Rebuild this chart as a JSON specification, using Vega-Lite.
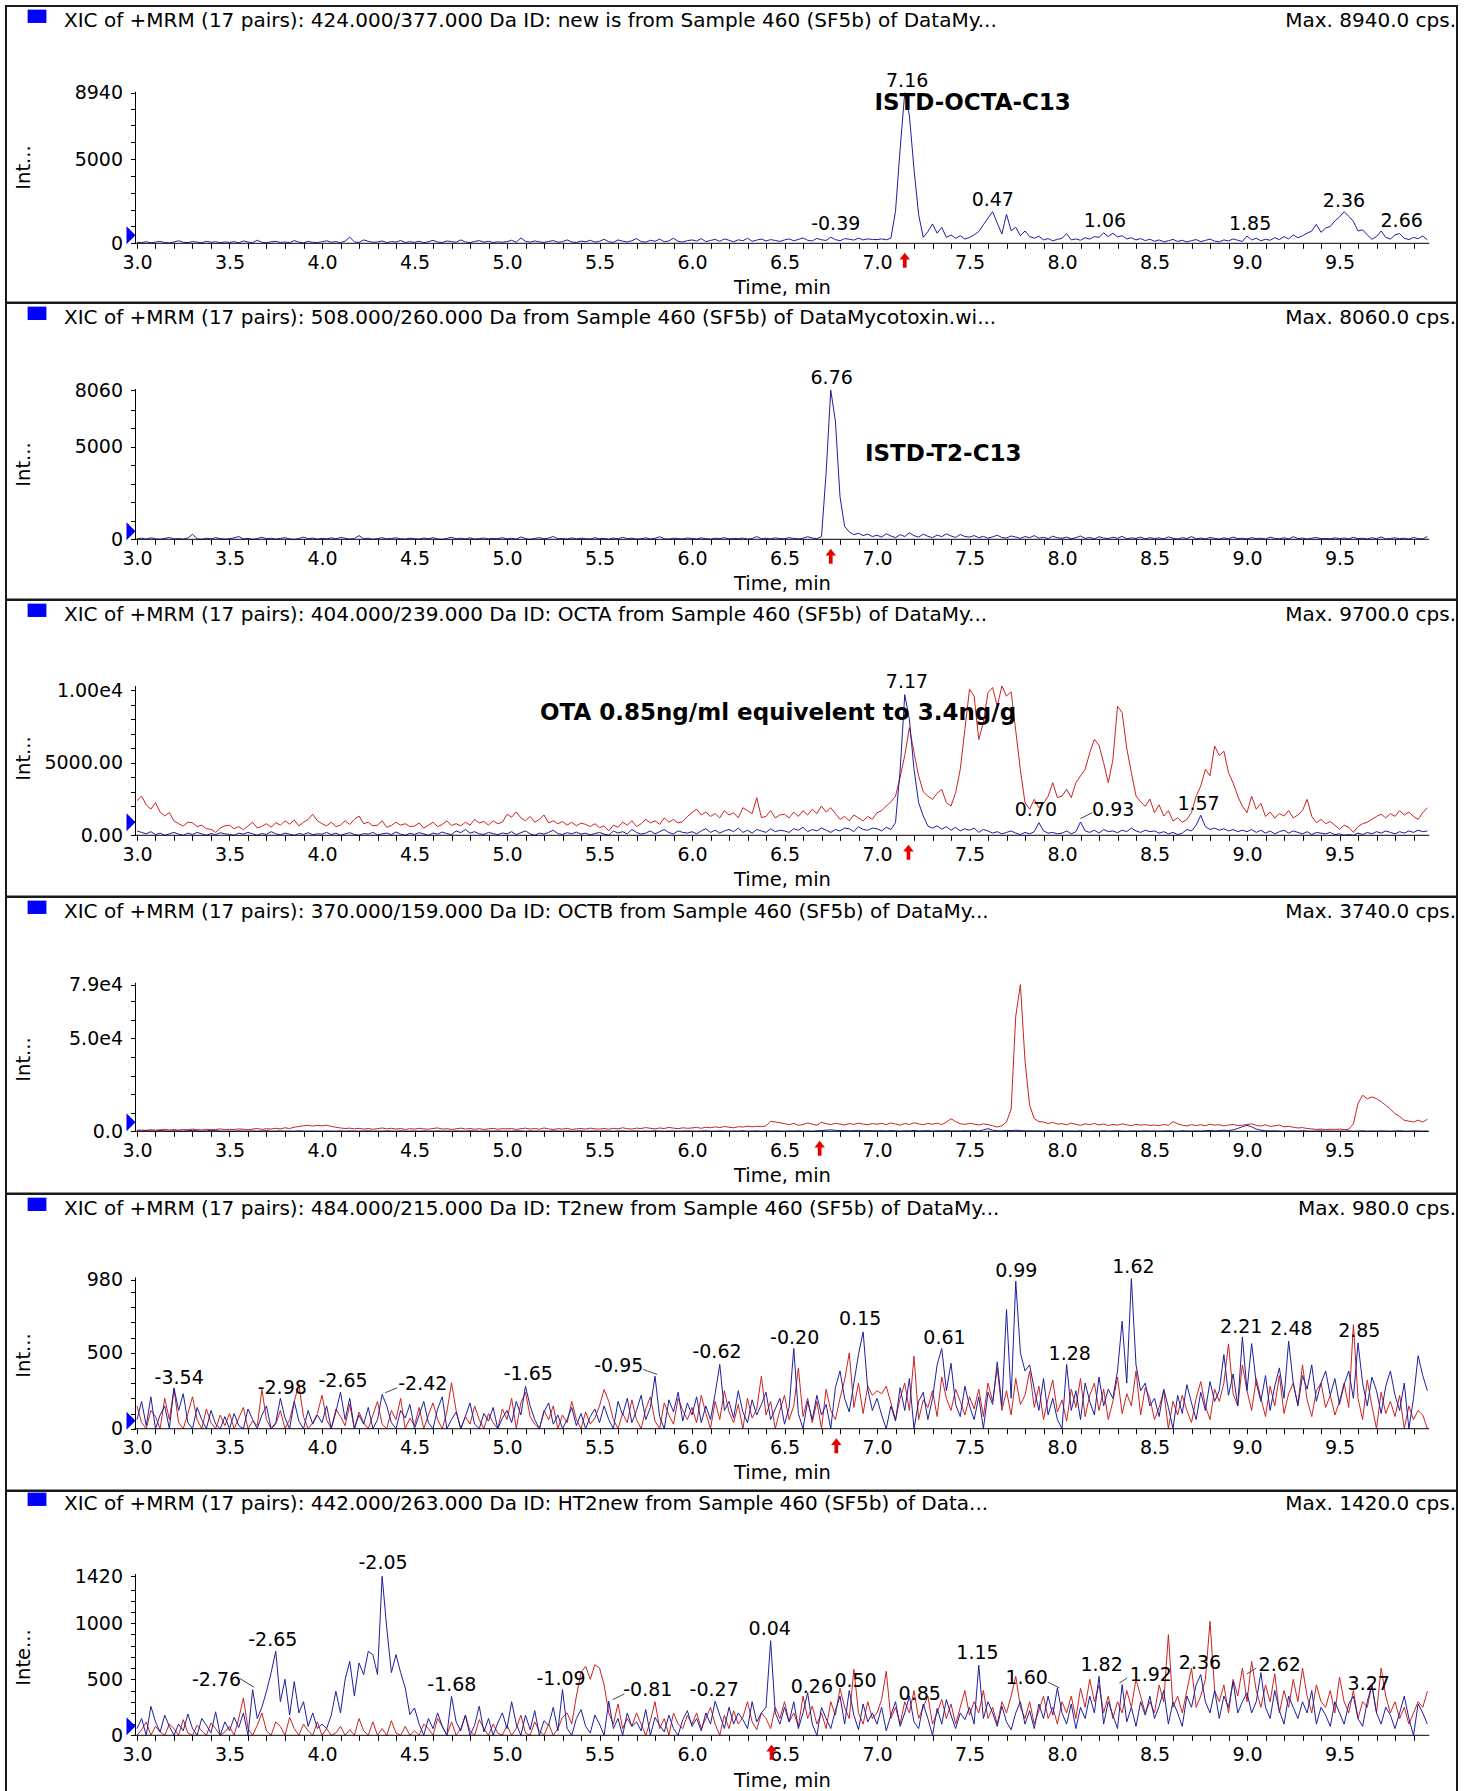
{
"$schema":"https://vega.github.io/schema/vega-lite/v6.json",
"padding":{"left":5,"top":5,"right":5,"bottom":0},
"background":"white",
"bounds":"flush",
"spacing":0,
"config":{
 "view":{"stroke":"#1a1a1a","strokeWidth":2},
 "axis":{"labelFont":"DejaVu Sans","labelFontSize":19,"labelColor":"black","titleFont":"DejaVu Sans","titleFontSize":19.5,"titleFontWeight":"normal","titleColor":"black","tickColor":"black","tickSize":5,"tickWidth":1,"grid":false,"domain":false,"labelFlush":false,"labelOverlap":false,"zindex":1},
 "axisX":{"labelPadding":5,"labelAngle":0},
 "axisY":{"labelPadding":8},
 "text":{"font":"DejaVu Sans","fontSize":19,"color":"black"}
},
"datasets":{
 "traces":[{
  "t":[3,3.025,3.05,3.075,3.1,3.125,3.15,3.175,3.2,3.225,3.25,3.275,3.3,3.325,3.35,3.375,3.4,3.425,3.45,3.475,3.5,3.525,3.55,3.575,3.6,3.625,3.65,3.675,3.7,3.725,3.75,3.775,3.8,3.825,3.85,3.875,3.9,3.925,3.95,3.975,
4,4.025,4.05,4.075,4.1,4.125,4.15,4.175,4.2,4.225,4.25,4.275,4.3,4.325,4.35,4.375,4.4,4.425,4.45,4.475,4.5,4.525,4.55,4.575,4.6,4.625,4.65,4.675,4.7,4.725,4.75,4.775,4.8,4.825,4.85,4.875,4.9,4.925,4.95,4.975,
5,5.025,5.05,5.075,5.1,5.125,5.15,5.175,5.2,5.225,5.25,5.275,5.3,5.325,5.35,5.375,5.4,5.425,5.45,5.475,5.5,5.525,5.55,5.575,5.6,5.625,5.65,5.675,5.7,5.725,5.75,5.775,5.8,5.825,5.85,5.875,5.9,5.925,5.95,5.975,
6,6.025,6.05,6.075,6.1,6.125,6.15,6.175,6.2,6.225,6.25,6.275,6.3,6.325,6.35,6.375,6.4,6.425,6.45,6.475,6.5,6.525,6.55,6.575,6.6,6.625,6.65,6.675,6.7,6.725,6.75,6.775,6.8,6.825,6.85,6.875,6.9,6.925,6.95,6.975,
7,7.025,7.05,7.075,7.1,7.125,7.15,7.175,7.2,7.225,7.25,7.275,7.3,7.325,7.35,7.375,7.4,7.425,7.45,7.475,7.5,7.525,7.55,7.575,7.6,7.625,7.65,7.675,7.7,7.725,7.75,7.775,7.8,7.825,7.85,7.875,7.9,7.925,7.95,7.975,
8,8.025,8.05,8.075,8.1,8.125,8.15,8.175,8.2,8.225,8.25,8.275,8.3,8.325,8.35,8.375,8.4,8.425,8.45,8.475,8.5,8.525,8.55,8.575,8.6,8.625,8.65,8.675,8.7,8.725,8.75,8.775,8.8,8.825,8.85,8.875,8.9,8.925,8.95,8.975,
9,9.025,9.05,9.075,9.1,9.125,9.15,9.175,9.2,9.225,9.25,9.275,9.3,9.325,9.35,9.375,9.4,9.425,9.45,9.475,9.5,9.525,9.55,9.575,9.6,9.625,9.65,9.675,9.7,9.725,9.75,9.775,9.8,9.825,9.85,9.875,9.9,9.925,9.95,9.975],
  "p1b":[60,40,90,30,70,110,50,20,80,150,60,40,100,70,30,120,60,90,40,80,
50,100,30,140,70,40,180,60,30,90,120,50,80,40,160,70,30,110,60,40,
90,150,60,100,40,130,360,90,50,200,120,60,80,140,40,100,70,170,50,90,
60,120,40,90,180,70,50,140,100,60,200,80,40,110,160,70,120,50,90,60,
100,180,60,320,120,70,140,90,50,110,160,60,100,200,80,50,130,90,180,70,
120,240,90,60,200,130,80,150,280,100,70,180,120,250,90,140,300,110,80,160,
200,130,280,100,170,230,120,260,180,90,210,150,300,120,190,250,140,220,170,110,
200,260,150,230,320,180,140,290,210,170,360,220,150,280,240,190,310,200,260,230,
220,260,210,300,1900,5600,8940,7600,4400,1700,350,700,1150,600,950,350,500,300,450,250,
350,500,700,1100,1500,1880,1200,550,1720,750,950,450,730,400,300,420,200,280,150,230,
300,570,200,260,180,330,250,400,350,620,400,600,380,450,260,330,200,280,160,240,
120,200,90,150,230,110,180,80,160,220,100,170,250,130,90,200,140,260,180,110,
435,200,300,150,240,180,330,220,400,260,500,330,450,600,730,1130,650,900,1000,1330,
1560,1880,1600,1300,730,800,500,240,400,730,350,250,500,580,300,220,350,280,435,200],
  "p2b":[20,60,10,80,30,0,50,100,20,40,10,70,270,30,0,60,20,90,40,10,
30,80,150,20,50,0,40,110,30,60,10,50,90,20,0,40,120,30,70,10,
50,20,80,30,100,60,10,40,200,30,60,0,40,90,20,50,80,30,10,60,
40,10,70,30,90,20,0,50,110,30,60,20,80,10,40,70,20,50,30,90,
20,60,10,130,40,0,50,90,20,70,150,30,50,10,80,20,60,40,10,90,
30,50,0,70,20,110,40,60,10,30,80,20,50,140,30,10,60,40,20,70,
50,20,80,30,10,60,40,90,20,50,30,70,10,40,150,30,60,20,80,40,
30,90,50,20,60,140,70,30,150,3600,8060,6400,2300,700,400,250,330,200,280,150,
220,120,300,180,90,250,150,350,200,120,280,160,90,230,140,300,180,100,260,150,
120,200,90,160,60,130,220,100,70,180,120,50,150,90,200,60,110,40,170,80,
60,120,30,90,180,50,100,20,140,70,40,110,60,160,30,80,50,120,20,90,
40,80,20,130,60,10,90,40,150,30,70,20,100,50,10,80,30,120,40,60,
20,90,40,60,10,120,50,30,80,20,140,40,70,10,60,100,30,50,20,80,
40,70,20,110,30,60,10,90,40,130,20,50,80,30,60,10,100,40,20,150],
  "p3r":[2400,2700,2100,1800,2250,1600,1330,1560,990,800,640,900,870,600,700,450,410,200,500,650,
700,450,600,380,650,900,500,620,800,550,870,700,1000,760,1050,650,900,1100,1450,1000,
800,650,900,600,700,1000,750,1100,1330,800,900,650,700,1000,550,680,900,700,800,600,
640,850,500,700,900,600,750,1000,680,800,650,900,700,1100,850,950,700,1000,800,900,
1450,1250,1610,1200,1000,1300,900,1100,1400,850,1000,800,950,700,900,650,850,750,600,800,
530,650,300,700,550,900,700,1000,600,800,1100,850,1000,750,1200,900,1100,850,950,1300,
1560,1800,1400,1600,1300,1500,1200,1700,1400,1560,1200,1900,1700,1500,2600,1220,1300,1700,1200,1400,
1450,1200,1600,1300,1700,1400,1800,1500,2020,1600,1900,1500,1100,1300,1000,1400,1200,1000,1300,1100,
1560,1700,2020,2300,2700,4000,5500,7430,5700,4100,3000,2700,2480,2900,3170,2250,2020,2940,4550,7300,
10070,9600,6600,7800,9840,10190,8900,10300,9600,9900,7200,4500,2250,1800,2480,1900,2200,2700,3630,2600,
2700,3170,2600,3630,4100,4550,5700,6620,6200,5000,3630,5200,8900,8460,6000,4320,2710,2300,2000,2500,
1560,2100,1330,1700,990,1200,900,1100,1560,2700,3400,4550,4100,6160,5500,5800,4320,3600,2700,2000,
1560,2700,1800,2200,1300,1600,1200,1500,1330,1700,1200,1400,1700,2480,1300,870,1100,800,950,700,
414,700,550,200,600,800,900,1100,1300,1450,1200,1500,1300,1700,1400,1600,1300,1100,1560,1900],
  "p3b":[300,200,100,250,50,150,0,100,200,80,0,150,60,200,100,0,120,50,180,100,
60,0,150,80,200,100,0,120,60,250,100,30,150,80,0,120,60,180,40,100,
80,200,50,150,0,100,180,60,0,120,80,200,30,100,150,50,230,80,0,140,
60,180,100,0,150,80,220,120,50,300,180,400,150,250,100,60,200,120,40,160,
100,250,50,180,300,100,0,150,80,200,350,120,60,180,100,220,80,150,30,120,
200,80,0,300,150,250,100,400,200,80,150,300,100,250,400,180,100,300,200,150,
250,100,300,450,200,350,150,300,400,250,500,200,350,150,400,300,200,450,250,350,
300,200,450,350,550,250,400,300,500,350,200,400,300,500,450,250,600,400,350,500,
450,300,550,400,870,4500,9700,8000,4550,2250,1330,640,500,650,420,600,350,550,300,450,
350,500,200,400,300,150,250,100,200,300,150,50,200,100,250,870,300,150,200,100,
150,300,100,250,920,300,200,350,150,400,250,300,180,350,250,500,300,200,350,250,
300,150,250,100,200,50,150,400,300,700,1380,600,400,500,350,450,300,400,250,350,
250,400,200,350,150,300,100,250,350,150,300,200,100,250,50,200,150,100,200,50,
100,0,50,0,150,50,200,100,250,150,300,200,100,250,150,300,200,350,250,300],
  "p4r":[540,700,500,900,600,800,1100,700,900,600,1000,800,1200,900,700,1100,800,1000,1300,900,
1080,900,1300,1100,800,1200,1500,1000,1400,1200,1600,1300,1900,1500,2200,2600,3000,3200,2800,3230,
2900,3300,2600,2200,1800,1500,1700,1300,1600,1200,1500,1100,1400,1800,1300,1600,1200,1500,1000,1400,
1200,1600,1300,1100,1500,1800,1200,1400,1000,1300,1700,1200,1500,1100,1400,1000,1300,1600,1100,1400,
1300,1500,1000,1400,1700,1200,1500,1100,1800,1300,1000,1400,1200,1600,1000,1300,1500,1200,1700,1300,
1200,1500,1100,1600,1300,1900,1400,1200,1700,1500,2000,1600,1300,1800,1500,2100,1700,1400,1900,1600,
1800,2100,1600,2200,1900,2400,2000,2600,2200,1900,2500,2300,2800,2400,2700,2500,2900,5400,5000,4600,
4100,3500,4300,3200,3600,4500,3800,3300,4900,4100,3600,4300,3900,3400,4200,3700,4400,3900,3500,4200,
3800,4300,3600,4500,3900,3300,4200,3700,4600,4000,3500,4300,3800,4400,3600,4900,6800,5200,4100,3700,
4300,3900,3400,4000,3600,3000,2300,3000,5000,12000,62000,79000,38000,14000,6800,5200,5000,4200,4800,3900,
4100,3500,4400,3800,3200,4000,3600,4200,3400,3900,3100,3700,3300,4000,3500,3000,3800,3300,3600,3100,
3400,3000,3700,3200,5200,4000,3300,2900,3600,3100,3500,3000,3800,3300,3600,2900,3400,3700,3100,3300,
3600,4000,3200,2800,3500,2600,3000,3300,2400,2700,2200,1800,2000,1500,1300,1000,1200,900,1100,1000,
1200,900,1100,4000,15000,19400,17500,18500,17600,16000,14000,12000,9500,8000,5900,5500,5000,6000,5000,6500],
  "p4b":[200,0,300,100,0,400,150,0,250,100,0,300,500,200,0,150,600,300,100,0,
100,0,200,50,0,150,0,100,300,0,50,200,0,100,0,250,50,0,150,0,
0,100,50,0,200,0,150,50,0,100,250,0,50,0,150,100,0,200,50,0,
100,0,150,50,0,200,0,100,0,150,50,0,250,100,0,50,150,0,100,0,
50,0,200,100,0,150,50,0,100,0,200,50,0,150,0,100,250,0,50,100,
0,150,50,0,100,200,0,50,150,0,100,0,250,50,0,100,150,0,50,200,
100,0,150,250,50,0,200,100,0,150,50,300,0,100,200,0,150,50,250,100,
0,200,100,300,50,150,0,250,400,600,800,500,300,450,200,350,500,250,400,300,
200,350,150,400,250,100,300,200,450,150,250,350,100,300,200,400,150,250,100,300,
200,400,150,800,1400,600,300,200,500,350,600,400,200,300,150,250,100,300,200,150,
250,100,200,50,300,150,0,200,100,250,50,150,300,100,0,200,150,50,250,100,
200,50,150,300,100,0,250,150,50,200,100,300,500,200,400,600,350,800,1500,2500,
3200,2400,1200,600,300,150,250,100,0,200,150,50,300,100,0,150,250,50,100,0,
150,50,200,0,100,250,0,150,50,200,100,0,150,300,50,0,200,100,0,150],
  "p5b":[60,180,20,210,0,90,150,0,269,120,230,40,0,140,60,0,120,30,0,80,
0,100,20,0,130,60,0,90,150,0,40,200,70,0,180,50,0,120,30,90,
40,150,0,110,241,60,200,0,90,30,140,0,60,226,150,40,0,120,70,160,
0,90,180,40,0,130,210,0,60,110,0,80,170,30,0,100,50,140,0,70,
120,40,180,90,280,150,60,0,110,170,30,90,0,60,140,20,100,0,80,130,
40,150,60,0,180,90,200,40,120,220,60,140,346,80,0,190,110,240,50,170,
90,210,40,150,60,230,423,120,180,70,250,110,40,190,90,160,240,60,130,200,
30,140,528,100,0,180,60,220,90,160,0,270,380,200,110,300,490,637,260,120,
200,90,0,150,50,270,120,330,0,180,240,60,200,420,528,250,430,160,80,280,
150,60,210,0,240,160,440,150,784,200,970,500,380,420,260,120,330,90,200,60,
0,423,120,250,60,300,180,90,340,150,260,200,380,707,300,988,420,250,300,150,
200,80,260,140,0,220,100,290,170,60,240,120,310,180,250,488,220,360,150,604,
250,560,300,180,350,120,280,400,200,576,300,150,350,260,420,180,300,380,220,330,
160,290,380,200,565,300,150,340,250,100,280,380,220,120,300,0,200,480,350,250],
  "p5r":[150,40,0,120,80,0,200,60,260,40,0,100,210,60,0,130,40,0,90,20,
100,0,70,140,0,50,20,258,60,0,30,120,0,60,180,291,80,0,40,100,
221,60,0,130,80,20,160,0,110,40,0,90,180,30,0,120,60,200,0,70,
20,140,0,90,170,60,0,110,302,120,0,80,30,150,60,0,100,40,0,130,
60,200,0,170,240,80,30,0,120,60,150,0,90,40,180,60,0,110,30,70,
150,258,180,60,0,100,40,190,60,0,130,210,50,0,170,90,30,200,120,60,
140,40,220,100,0,180,60,250,110,40,160,0,200,70,130,346,90,180,0,120,
220,60,150,400,80,200,40,180,0,260,120,60,200,320,499,140,300,100,280,220,
250,230,280,170,60,200,300,120,477,60,190,140,250,80,340,200,120,260,180,90,
210,130,260,80,300,180,400,120,250,90,330,160,220,380,140,280,60,200,320,110,
190,50,260,140,330,80,220,300,120,260,60,180,340,100,230,150,380,90,270,200,
60,140,250,0,180,90,220,120,40,200,310,150,60,260,180,300,558,230,150,420,
250,120,330,200,80,280,150,350,100,230,300,160,420,190,80,250,300,140,220,90,
180,300,140,685,200,60,320,150,0,240,100,180,80,220,0,150,60,120,90,0],
  "p6b":[60,150,0,259,120,30,180,80,0,100,40,190,60,0,150,90,20,210,0,120,
40,160,70,200,0,408,150,250,393,560,750,300,500,180,480,200,300,80,200,60,
100,60,180,393,200,500,660,350,646,542,750,720,542,1420,958,560,720,560,423,185,
244,100,0,150,60,200,80,0,348,120,40,180,0,90,260,30,150,0,110,200,
60,300,100,0,180,50,220,0,130,90,250,40,408,60,0,150,230,80,20,180,
100,0,304,60,150,0,200,80,120,40,230,0,160,90,30,180,60,0,140,220,
80,150,40,200,100,304,180,60,250,100,200,140,60,300,120,200,250,845,200,100,
250,120,300,60,200,380,100,0,250,150,60,220,350,100,400,180,50,280,120,200,
100,250,40,180,300,80,200,350,120,60,280,150,0,240,100,320,180,60,200,140,
250,100,625,150,300,200,80,260,120,50,200,300,100,220,60,280,150,350,180,423,
200,100,280,60,250,150,350,200,527,100,300,180,60,452,120,250,80,300,180,350,
150,260,400,100,300,200,80,350,250,450,542,300,200,400,150,350,250,480,200,300,
380,200,300,560,250,150,400,220,100,350,250,150,300,200,400,100,250,180,80,300,
200,100,280,350,150,80,300,450,200,100,250,180,60,200,350,150,0,280,200,100],
  "p6r":[0,50,120,0,80,30,0,100,60,0,140,20,0,90,40,0,110,60,0,30,
80,0,150,333,60,0,90,200,40,0,120,80,0,160,60,0,100,40,0,120,
0,60,0,20,80,0,50,0,150,40,0,120,0,60,0,130,20,0,80,0,
40,0,100,60,0,150,80,0,120,0,60,180,40,0,140,60,0,100,20,0,
90,0,60,180,20,0,120,40,0,100,0,60,160,200,100,350,560,616,500,631,
601,450,200,100,280,60,150,80,200,100,0,130,300,60,150,0,200,100,60,180,
100,200,60,150,250,100,0,180,60,220,100,160,300,120,50,200,150,60,250,150,
300,120,200,80,350,150,260,100,200,60,300,180,420,250,150,590,200,100,300,150,
200,320,571,150,250,100,300,200,400,150,250,350,100,200,320,150,280,100,250,400,
180,300,200,400,150,250,100,300,200,350,527,250,150,300,100,220,350,150,250,100,
300,200,350,150,420,250,500,300,450,200,350,150,300,200,400,250,500,350,200,300,
200,450,300,899,250,350,200,400,600,250,350,500,1018,400,300,450,200,500,350,600,
300,660,400,250,450,300,550,200,400,250,500,300,600,350,200,450,300,250,400,200,
520,300,200,400,150,300,250,450,200,601,350,200,300,150,250,100,200,300,250,393]
 }],
 "headers":[
  {"p":1,"left":"XIC of +MRM (17 pairs): 424.000/377.000 Da ID: new is from Sample 460 (SF5b) of DataMy...","right":"Max. 8940.0 cps.","rt":7.15},
  {"p":2,"left":"XIC of +MRM (17 pairs): 508.000/260.000 Da  from Sample 460 (SF5b) of DataMycotoxin.wi...","right":"Max. 8060.0 cps.","rt":6.75},
  {"p":3,"left":"XIC of +MRM (17 pairs): 404.000/239.000 Da ID: OCTA from Sample 460 (SF5b) of DataMy...","right":"Max. 9700.0 cps.","rt":7.17},
  {"p":4,"left":"XIC of +MRM (17 pairs): 370.000/159.000 Da ID: OCTB from Sample 460 (SF5b) of DataMy...","right":"Max. 3740.0 cps.","rt":6.69},
  {"p":5,"left":"XIC of +MRM (17 pairs): 484.000/215.000 Da ID: T2new from Sample 460 (SF5b) of DataMy...","right":"Max. 980.0 cps.","rt":6.78},
  {"p":6,"left":"XIC of +MRM (17 pairs): 442.000/263.000 Da ID: HT2new from Sample 460 (SF5b) of Data...","right":"Max. 1420.0 cps.","rt":6.43}
 ],
 "labels":[
  {"p":1,"t":7.163,"v":9638,"txt":"7.16","k":"peak"},
  {"p":1,"t":7.517,"v":8351,"txt":"ISTD-OCTA-C13","k":"note"},
  {"p":1,"t":6.777,"v":1168,"txt":"-0.39","k":"peak"},
  {"p":1,"t":7.626,"v":2553,"txt":"0.47","k":"peak"},
  {"p":1,"t":8.232,"v":1326,"txt":"1.06","k":"peak"},
  {"p":1,"t":9.017,"v":1168,"txt":"1.85","k":"peak"},
  {"p":1,"t":9.524,"v":2513,"txt":"2.36","k":"peak"},
  {"p":1,"t":9.836,"v":1326,"txt":"2.66","k":"peak"},
  {"p":2,"t":6.755,"v":8712,"txt":"6.76","k":"peak"},
  {"p":2,"t":7.358,"v":4626,"txt":"ISTD-T2-C13","k":"note"},
  {"p":3,"t":7.162,"v":10580,"txt":"7.17","k":"peak"},
  {"p":3,"t":6.465,"v":8418,"txt":"OTA  0.85ng/ml  equivelent to 3.4ng/g","k":"note"},
  {"p":3,"t":7.859,"v":1748,"txt":"0.70","k":"peak"},
  {"p":3,"t":8.277,"v":1748,"txt":"0.93","k":"peak"},
  {"p":3,"t":8.738,"v":2139,"txt":"1.57","k":"peak"},
  {"p":5,"t":3.228,"v":331,"txt":"-3.54","k":"peak"},
  {"p":5,"t":3.785,"v":265,"txt":"-2.98","k":"peak"},
  {"p":5,"t":4.114,"v":313,"txt":"-2.65","k":"peak"},
  {"p":5,"t":4.545,"v":296,"txt":"-2.42","k":"peak"},
  {"p":5,"t":5.115,"v":361,"txt":"-1.65","k":"peak"},
  {"p":5,"t":5.604,"v":412,"txt":"-0.95","k":"peak"},
  {"p":5,"t":6.135,"v":505,"txt":"-0.62","k":"peak"},
  {"p":5,"t":6.555,"v":598,"txt":"-0.20","k":"peak"},
  {"p":5,"t":6.909,"v":723,"txt":"0.15","k":"peak"},
  {"p":5,"t":7.365,"v":598,"txt":"0.61","k":"peak"},
  {"p":5,"t":7.753,"v":1040,"txt":"0.99","k":"peak"},
  {"p":5,"t":8.042,"v":493,"txt":"1.28","k":"peak"},
  {"p":5,"t":8.386,"v":1062,"txt":"1.62","k":"peak"},
  {"p":5,"t":8.969,"v":668,"txt":"2.21","k":"peak"},
  {"p":5,"t":9.24,"v":659,"txt":"2.48","k":"peak"},
  {"p":5,"t":9.607,"v":646,"txt":"2.85","k":"peak"},
  {"p":6,"t":3.43,"v":497,"txt":"-2.76","k":"peak"},
  {"p":6,"t":3.734,"v":854,"txt":"-2.65","k":"peak"},
  {"p":6,"t":4.33,"v":1539,"txt":"-2.05","k":"peak"},
  {"p":6,"t":4.702,"v":452,"txt":"-1.68","k":"peak"},
  {"p":6,"t":5.292,"v":506,"txt":"-1.09","k":"peak"},
  {"p":6,"t":5.761,"v":408,"txt":"-0.81","k":"peak"},
  {"p":6,"t":6.12,"v":408,"txt":"-0.27","k":"peak"},
  {"p":6,"t":6.42,"v":952,"txt":"0.04","k":"peak"},
  {"p":6,"t":6.648,"v":428,"txt":"0.26","k":"peak"},
  {"p":6,"t":6.884,"v":488,"txt":"0.50","k":"peak"},
  {"p":6,"t":7.231,"v":369,"txt":"0.85","k":"peak"},
  {"p":6,"t":7.543,"v":735,"txt":"1.15","k":"peak"},
  {"p":6,"t":7.809,"v":512,"txt":"1.60","k":"peak"},
  {"p":6,"t":8.214,"v":631,"txt":"1.82","k":"peak"},
  {"p":6,"t":8.48,"v":542,"txt":"1.92","k":"peak"},
  {"p":6,"t":8.746,"v":646,"txt":"2.36","k":"peak"},
  {"p":6,"t":9.177,"v":631,"txt":"2.62","k":"peak"},
  {"p":6,"t":9.658,"v":458,"txt":"3.27","k":"peak"}
 ],
 "leaders":[
  {"p":3,"t":8.1,"v":1150,"t2":8.163,"v2":1564},
  {"p":5,"t":4.342,"v":237,"t2":4.406,"v2":269},
  {"p":5,"t":5.736,"v":390,"t2":5.812,"v2":357},
  {"p":6,"t":3.557,"v":506,"t2":3.633,"v2":429},
  {"p":6,"t":5.571,"v":318,"t2":5.634,"v2":369},
  {"p":6,"t":7.923,"v":476,"t2":7.986,"v2":423},
  {"p":6,"t":8.31,"v":467,"t2":8.353,"v2":512},
  {"p":6,"t":9.0,"v":548,"t2":9.05,"v2":601}
 ]
},
"vconcat":[
 {"width":1451,"height":296.6,"resolve":{"axis":{"x":"independent","y":"independent"}},"layer":[
  {"data":{"name":"traces"},"transform":[{"flatten":["t","p1b"]}],"mark":{"type":"line","color":"#1e1e9e","strokeWidth":1},
   "encoding":{"x":{"field":"t","type":"quantitative","scale":{"domain":[2.2919,10.1351],"nice":false,"zero":false},"axis":{"title":"Time, min","values":[3,3.1,3.2,3.3,3.4,3.5,3.6,3.7,3.8,3.9,4,4.1,4.2,4.3,4.4,4.5,4.6,4.7,4.8,4.9,5,5.1,5.2,5.3,5.4,5.5,5.6,5.7,5.8,5.9,6,6.1,6.2,6.3,6.4,6.5,6.6,6.7,6.8,6.9,7,7.1,7.2,7.3,7.4,7.5,7.6,7.7,7.8,7.9,8,8.1,8.2,8.3,8.4,8.5,8.6,8.7,8.8,8.9,9,9.1,9.2,9.3,9.4,9.5,9.6,9.7,9.8,9.9],"labelExpr":"round(datum.value*10)%5==0 ? format(datum.value,'.1f') : ''","labelOverlap":false,"offset":-59.3,"titleX":776,"titleY":44,"titleBaseline":"middle","titleAlign":"center"}},
    "y":{"field":"p1b","type":"quantitative","scale":{"domain":[-3520,14087],"nice":false,"zero":false},"axis":{"title":"Int...","values":[0,1000,2000,3000,4000,5000,6000,7000,8000,8940],"labelExpr":"datum.value==0||datum.value==5000||datum.value==8940 ? ''+datum.value : ''","labelOverlap":false,"offset":-129.5,"titleX":-112.5,"titleY":161,"titleBaseline":"middle","titleAlign":"center"}}}},
  {"data":{"name":"headers"},"transform":[{"filter":"datum.p==1"}],"layer":[
   {"mark":{"type":"rule","color":"black","strokeWidth":1},"encoding":{"x":{"datum":2.985,"axis":null},"x2":{"datum":9.985},"y":{"datum":0,"axis":null}}},
   {"mark":{"type":"rule","color":"black","strokeWidth":1},"encoding":{"x":{"datum":2.9919,"axis":null},"y":{"datum":0,"axis":null},"y2":{"datum":9000}}},
   {"mark":{"type":"text","align":"left","baseline":"middle","fontSize":20},"encoding":{"x":{"datum":2.6054,"axis":null},"y":{"datum":13197,"axis":null},"text":{"field":"left"}}},
   {"mark":{"type":"text","align":"right","baseline":"middle","fontSize":20},"encoding":{"x":{"datum":10.13,"axis":null},"y":{"datum":13197,"axis":null},"text":{"field":"right"}}},
   {"mark":{"type":"point","shape":"M-1,-0.71L1,-0.71L1,0.71L-1,0.71Z","size":353,"filled":true,"color":"#0000ff","opacity":1,"yOffset":-4.7},"encoding":{"x":{"datum":2.4595,"axis":null},"y":{"datum":13197,"axis":null}}},
   {"mark":{"type":"point","shape":"M-0.5,-1L0.5,0L-0.5,1Z","size":324,"filled":true,"color":"#0000ff","opacity":1,"yOffset":-8},"encoding":{"x":{"datum":2.9676,"axis":null},"y":{"datum":0,"axis":null}}},
   {"mark":{"type":"point","shape":"M0,-1L0.7,-0.1L0.25,-0.1L0.25,1L-0.25,1L-0.25,-0.1L-0.7,-0.1Z","size":225,"filled":true,"color":"#e80000","opacity":1,"yOffset":17},"encoding":{"x":{"field":"rt","type":"quantitative","axis":null},"y":{"datum":0,"axis":null}}}
  ]},
  {"data":{"name":"labels"},"transform":[{"filter":"datum.p==1"}],"layer":[
   {"transform":[{"filter":"datum.k=='peak'"}],"mark":{"type":"text","fontSize":19,"baseline":"middle"},"encoding":{"x":{"field":"t","type":"quantitative","axis":null},"y":{"field":"v","type":"quantitative","axis":null},"text":{"field":"txt"}}},
   {"transform":[{"filter":"datum.k=='note'"}],"mark":{"type":"text","fontSize":23,"fontWeight":"bold","baseline":"middle"},"encoding":{"x":{"field":"t","type":"quantitative","axis":null},"y":{"field":"v","type":"quantitative","axis":null},"text":{"field":"txt"}}}
  ]}
 ]},
 {"width":1451,"height":296.6,"resolve":{"axis":{"x":"independent","y":"independent"}},"layer":[
  {"data":{"name":"traces"},"transform":[{"flatten":["t","p2b"]}],"mark":{"type":"line","color":"#1e1e9e","strokeWidth":1},
   "encoding":{"x":{"field":"t","type":"quantitative","scale":{"domain":[2.2919,10.1351],"nice":false,"zero":false},"axis":{"title":"Time, min","values":[3,3.1,3.2,3.3,3.4,3.5,3.6,3.7,3.8,3.9,4,4.1,4.2,4.3,4.4,4.5,4.6,4.7,4.8,4.9,5,5.1,5.2,5.3,5.4,5.5,5.6,5.7,5.8,5.9,6,6.1,6.2,6.3,6.4,6.5,6.6,6.7,6.8,6.9,7,7.1,7.2,7.3,7.4,7.5,7.6,7.7,7.8,7.9,8,8.1,8.2,8.3,8.4,8.5,8.6,8.7,8.8,8.9,9,9.1,9.2,9.3,9.4,9.5,9.6,9.7,9.8,9.9],"labelExpr":"round(datum.value*10)%5==0 ? format(datum.value,'.1f') : ''","labelOverlap":false,"offset":-60.3,"titleX":776,"titleY":44,"titleBaseline":"middle","titleAlign":"center"}},
    "y":{"field":"p2b","type":"quantitative","scale":{"domain":[-3259,12773],"nice":false,"zero":false},"axis":{"title":"Int...","values":[0,1000,2000,3000,4000,5000,6000,7000,8060],"labelExpr":"datum.value==0||datum.value==5000||datum.value==8060 ? ''+datum.value : ''","labelOverlap":false,"offset":-129.5,"titleX":-112.5,"titleY":161,"titleBaseline":"middle","titleAlign":"center"}}}},
  {"data":{"name":"headers"},"transform":[{"filter":"datum.p==2"}],"layer":[
   {"mark":{"type":"rule","color":"black","strokeWidth":1},"encoding":{"x":{"datum":2.985,"axis":null},"x2":{"datum":9.985},"y":{"datum":0,"axis":null}}},
   {"mark":{"type":"rule","color":"black","strokeWidth":1},"encoding":{"x":{"datum":2.9919,"axis":null},"y":{"datum":0,"axis":null},"y2":{"datum":8120}}},
   {"mark":{"type":"text","align":"left","baseline":"middle","fontSize":20},"encoding":{"x":{"datum":2.6054,"axis":null},"y":{"datum":11962,"axis":null},"text":{"field":"left"}}},
   {"mark":{"type":"text","align":"right","baseline":"middle","fontSize":20},"encoding":{"x":{"datum":10.13,"axis":null},"y":{"datum":11962,"axis":null},"text":{"field":"right"}}},
   {"mark":{"type":"point","shape":"M-1,-0.71L1,-0.71L1,0.71L-1,0.71Z","size":353,"filled":true,"color":"#0000ff","opacity":1,"yOffset":-4.7},"encoding":{"x":{"datum":2.4595,"axis":null},"y":{"datum":11962,"axis":null}}},
   {"mark":{"type":"point","shape":"M-0.5,-1L0.5,0L-0.5,1Z","size":324,"filled":true,"color":"#0000ff","opacity":1,"yOffset":-8},"encoding":{"x":{"datum":2.9676,"axis":null},"y":{"datum":0,"axis":null}}},
   {"mark":{"type":"point","shape":"M0,-1L0.7,-0.1L0.25,-0.1L0.25,1L-0.25,1L-0.25,-0.1L-0.7,-0.1Z","size":225,"filled":true,"color":"#e80000","opacity":1,"yOffset":17},"encoding":{"x":{"field":"rt","type":"quantitative","axis":null},"y":{"datum":0,"axis":null}}}
  ]},
  {"data":{"name":"labels"},"transform":[{"filter":"datum.p==2"}],"layer":[
   {"transform":[{"filter":"datum.k=='peak'"}],"mark":{"type":"text","fontSize":19,"baseline":"middle"},"encoding":{"x":{"field":"t","type":"quantitative","axis":null},"y":{"field":"v","type":"quantitative","axis":null},"text":{"field":"txt"}}},
   {"transform":[{"filter":"datum.k=='note'"}],"mark":{"type":"text","fontSize":23,"fontWeight":"bold","baseline":"middle"},"encoding":{"x":{"field":"t","type":"quantitative","axis":null},"y":{"field":"v","type":"quantitative","axis":null},"text":{"field":"txt"}}}
  ]}
 ]},
 {"width":1451,"height":296.6,"resolve":{"axis":{"x":"independent","y":"independent"}},"layer":[
  {"data":{"name":"traces"},"transform":[{"flatten":["t","p3r"]}],"mark":{"type":"line","color":"#cc2222","strokeWidth":1},
   "encoding":{"x":{"field":"t","type":"quantitative","scale":{"domain":[2.2919,10.1351],"nice":false,"zero":false},"axis":{"title":"Time, min","values":[3,3.1,3.2,3.3,3.4,3.5,3.6,3.7,3.8,3.9,4,4.1,4.2,4.3,4.4,4.5,4.6,4.7,4.8,4.9,5,5.1,5.2,5.3,5.4,5.5,5.6,5.7,5.8,5.9,6,6.1,6.2,6.3,6.4,6.5,6.6,6.7,6.8,6.9,7,7.1,7.2,7.3,7.4,7.5,7.6,7.7,7.8,7.9,8,8.1,8.2,8.3,8.4,8.5,8.6,8.7,8.8,8.9,9,9.1,9.2,9.3,9.4,9.5,9.6,9.7,9.8,9.9],"labelExpr":"round(datum.value*10)%5==0 ? format(datum.value,'.1f') : ''","labelOverlap":false,"offset":-61.3,"titleX":776,"titleY":44,"titleBaseline":"middle","titleAlign":"center"}},
    "y":{"field":"p3r","type":"quantitative","scale":{"domain":[-4228,16228],"nice":false,"zero":false},"axis":{"title":"Int...","values":[0,1000,2000,3000,4000,5000,6000,7000,8000,9000,10000],"labelExpr":"datum.value==0 ? '0.00' : datum.value==5000 ? '5000.00' : datum.value==10000 ? '1.00e4' : ''","labelOverlap":false,"offset":-129.5,"titleX":-112.5,"titleY":158,"titleBaseline":"middle","titleAlign":"center"}}}},
  {"data":{"name":"traces"},"transform":[{"flatten":["t","p3b"]}],"mark":{"type":"line","color":"#1e1e9e","strokeWidth":1},
   "encoding":{"x":{"field":"t","type":"quantitative","axis":null},"y":{"field":"p3b","type":"quantitative","axis":null}}},
  {"data":{"name":"headers"},"transform":[{"filter":"datum.p==3"}],"layer":[
   {"mark":{"type":"rule","color":"black","strokeWidth":1},"encoding":{"x":{"datum":2.985,"axis":null},"x2":{"datum":9.985},"y":{"datum":0,"axis":null}}},
   {"mark":{"type":"rule","color":"black","strokeWidth":1},"encoding":{"x":{"datum":2.9919,"axis":null},"y":{"datum":0,"axis":null},"y2":{"datum":10300}}},
   {"mark":{"type":"text","align":"left","baseline":"middle","fontSize":20},"encoding":{"x":{"datum":2.6054,"axis":null},"y":{"datum":15194,"axis":null},"text":{"field":"left"}}},
   {"mark":{"type":"text","align":"right","baseline":"middle","fontSize":20},"encoding":{"x":{"datum":10.13,"axis":null},"y":{"datum":15194,"axis":null},"text":{"field":"right"}}},
   {"mark":{"type":"point","shape":"M-1,-0.71L1,-0.71L1,0.71L-1,0.71Z","size":353,"filled":true,"color":"#0000ff","opacity":1,"yOffset":-4.7},"encoding":{"x":{"datum":2.4595,"axis":null},"y":{"datum":15194,"axis":null}}},
   {"mark":{"type":"point","shape":"M-0.5,-1L0.5,0L-0.5,1Z","size":324,"filled":true,"color":"#0000ff","opacity":1,"yOffset":-13},"encoding":{"x":{"datum":2.9676,"axis":null},"y":{"datum":0,"axis":null}}},
   {"mark":{"type":"point","shape":"M0,-1L0.7,-0.1L0.25,-0.1L0.25,1L-0.25,1L-0.25,-0.1L-0.7,-0.1Z","size":225,"filled":true,"color":"#e80000","opacity":1,"yOffset":17},"encoding":{"x":{"field":"rt","type":"quantitative","axis":null},"y":{"datum":0,"axis":null}}}
  ]},
  {"data":{"name":"leaders"},"transform":[{"filter":"datum.p==3"}],"mark":{"type":"rule","color":"#444","strokeWidth":1},"encoding":{"x":{"field":"t","type":"quantitative","axis":null},"x2":{"field":"t2"},"y":{"field":"v","type":"quantitative","axis":null},"y2":{"field":"v2"}}},
  {"data":{"name":"labels"},"transform":[{"filter":"datum.p==3"}],"layer":[
   {"transform":[{"filter":"datum.k=='peak'"}],"mark":{"type":"text","fontSize":19,"baseline":"middle"},"encoding":{"x":{"field":"t","type":"quantitative","axis":null},"y":{"field":"v","type":"quantitative","axis":null},"text":{"field":"txt"}}},
   {"transform":[{"filter":"datum.k=='note'"}],"mark":{"type":"text","fontSize":23,"fontWeight":"bold","baseline":"middle"},"encoding":{"x":{"field":"t","type":"quantitative","axis":null},"y":{"field":"v","type":"quantitative","axis":null},"text":{"field":"txt"}}}
  ]}
 ]},
 {"width":1451,"height":296.6,"resolve":{"axis":{"x":"independent","y":"independent"}},"layer":[
  {"data":{"name":"traces"},"transform":[{"flatten":["t","p4r"]}],"mark":{"type":"line","color":"#cc2222","strokeWidth":1},
   "encoding":{"x":{"field":"t","type":"quantitative","scale":{"domain":[2.2919,10.1351],"nice":false,"zero":false},"axis":{"title":"Time, min","values":[3,3.1,3.2,3.3,3.4,3.5,3.6,3.7,3.8,3.9,4,4.1,4.2,4.3,4.4,4.5,4.6,4.7,4.8,4.9,5,5.1,5.2,5.3,5.4,5.5,5.6,5.7,5.8,5.9,6,6.1,6.2,6.3,6.4,6.5,6.6,6.7,6.8,6.9,7,7.1,7.2,7.3,7.4,7.5,7.6,7.7,7.8,7.9,8,8.1,8.2,8.3,8.4,8.5,8.6,8.7,8.8,8.9,9,9.1,9.2,9.3,9.4,9.5,9.6,9.7,9.8,9.9],"labelExpr":"round(datum.value*10)%5==0 ? format(datum.value,'.1f') : ''","labelOverlap":false,"offset":-62.3,"titleX":776,"titleY":44,"titleBaseline":"middle","titleAlign":"center"}},
    "y":{"field":"p4r","type":"quantitative","scale":{"domain":[-33549,126171],"nice":false,"zero":false},"axis":{"title":"Int...","values":[0,10000,20000,30000,40000,50000,60000,70000,79000],"labelExpr":"datum.value==0 ? '0.0' : datum.value==50000 ? '5.0e4' : datum.value==79000 ? '7.9e4' : ''","labelOverlap":false,"offset":-129.5,"titleX":-112.5,"titleY":162,"titleBaseline":"middle","titleAlign":"center"}}}},
  {"data":{"name":"traces"},"transform":[{"flatten":["t","p4b"]}],"mark":{"type":"line","color":"#1e1e9e","strokeWidth":1},
   "encoding":{"x":{"field":"t","type":"quantitative","axis":null},"y":{"field":"p4b","type":"quantitative","axis":null}}},
  {"data":{"name":"headers"},"transform":[{"filter":"datum.p==4"}],"layer":[
   {"mark":{"type":"rule","color":"black","strokeWidth":1},"encoding":{"x":{"datum":2.985,"axis":null},"x2":{"datum":9.985},"y":{"datum":0,"axis":null}}},
   {"mark":{"type":"rule","color":"black","strokeWidth":1},"encoding":{"x":{"datum":2.9919,"axis":null},"y":{"datum":0,"axis":null},"y2":{"datum":80000}}},
   {"mark":{"type":"text","align":"left","baseline":"middle","fontSize":20},"encoding":{"x":{"datum":2.6054,"axis":null},"y":{"datum":118093,"axis":null},"text":{"field":"left"}}},
   {"mark":{"type":"text","align":"right","baseline":"middle","fontSize":20},"encoding":{"x":{"datum":10.13,"axis":null},"y":{"datum":118093,"axis":null},"text":{"field":"right"}}},
   {"mark":{"type":"point","shape":"M-1,-0.71L1,-0.71L1,0.71L-1,0.71Z","size":353,"filled":true,"color":"#0000ff","opacity":1,"yOffset":-4.7},"encoding":{"x":{"datum":2.4595,"axis":null},"y":{"datum":118093,"axis":null}}},
   {"mark":{"type":"point","shape":"M-0.5,-1L0.5,0L-0.5,1Z","size":324,"filled":true,"color":"#0000ff","opacity":1,"yOffset":-9},"encoding":{"x":{"datum":2.9676,"axis":null},"y":{"datum":0,"axis":null}}},
   {"mark":{"type":"point","shape":"M0,-1L0.7,-0.1L0.25,-0.1L0.25,1L-0.25,1L-0.25,-0.1L-0.7,-0.1Z","size":225,"filled":true,"color":"#e80000","opacity":1,"yOffset":17},"encoding":{"x":{"field":"rt","type":"quantitative","axis":null},"y":{"datum":0,"axis":null}}}
  ]}
 ]},
 {"width":1451,"height":296.6,"resolve":{"axis":{"x":"independent","y":"independent"}},"layer":[
  {"data":{"name":"traces"},"transform":[{"flatten":["t","p5r"]}],"mark":{"type":"line","color":"#cc2222","strokeWidth":1},
   "encoding":{"x":{"field":"t","type":"quantitative","scale":{"domain":[2.2919,10.1351],"nice":false,"zero":false},"axis":{"title":"Time, min","values":[3,3.1,3.2,3.3,3.4,3.5,3.6,3.7,3.8,3.9,4,4.1,4.2,4.3,4.4,4.5,4.6,4.7,4.8,4.9,5,5.1,5.2,5.3,5.4,5.5,5.6,5.7,5.8,5.9,6,6.1,6.2,6.3,6.4,6.5,6.6,6.7,6.8,6.9,7,7.1,7.2,7.3,7.4,7.5,7.6,7.7,7.8,7.9,8,8.1,8.2,8.3,8.4,8.5,8.6,8.7,8.8,8.9,9,9.1,9.2,9.3,9.4,9.5,9.6,9.7,9.8,9.9],"labelExpr":"round(datum.value*10)%5==0 ? format(datum.value,'.1f') : ''","labelOverlap":false,"offset":-61.9,"titleX":776,"titleY":44,"titleBaseline":"middle","titleAlign":"center"}},
    "y":{"field":"p5r","type":"quantitative","scale":{"domain":[-407,1544],"nice":false,"zero":false},"axis":{"title":"Int...","values":[0,100,200,300,400,500,600,700,800,900,980],"labelExpr":"datum.value==0||datum.value==500||datum.value==980 ? ''+datum.value : ''","labelOverlap":false,"offset":-129.5,"titleX":-112.5,"titleY":161,"titleBaseline":"middle","titleAlign":"center"}}}},
  {"data":{"name":"traces"},"transform":[{"flatten":["t","p5b"]}],"mark":{"type":"line","color":"#1e1e9e","strokeWidth":1},
   "encoding":{"x":{"field":"t","type":"quantitative","axis":null},"y":{"field":"p5b","type":"quantitative","axis":null}}},
  {"data":{"name":"headers"},"transform":[{"filter":"datum.p==5"}],"layer":[
   {"mark":{"type":"rule","color":"black","strokeWidth":1},"encoding":{"x":{"datum":2.985,"axis":null},"x2":{"datum":9.985},"y":{"datum":0,"axis":null}}},
   {"mark":{"type":"rule","color":"black","strokeWidth":1},"encoding":{"x":{"datum":2.9919,"axis":null},"y":{"datum":0,"axis":null},"y2":{"datum":995}}},
   {"mark":{"type":"text","align":"left","baseline":"middle","fontSize":20},"encoding":{"x":{"datum":2.6054,"axis":null},"y":{"datum":1445,"axis":null},"text":{"field":"left"}}},
   {"mark":{"type":"text","align":"right","baseline":"middle","fontSize":20},"encoding":{"x":{"datum":10.13,"axis":null},"y":{"datum":1445,"axis":null},"text":{"field":"right"}}},
   {"mark":{"type":"point","shape":"M-1,-0.71L1,-0.71L1,0.71L-1,0.71Z","size":353,"filled":true,"color":"#0000ff","opacity":1,"yOffset":-4.7},"encoding":{"x":{"datum":2.4595,"axis":null},"y":{"datum":1445,"axis":null}}},
   {"mark":{"type":"point","shape":"M-0.5,-1L0.5,0L-0.5,1Z","size":324,"filled":true,"color":"#0000ff","opacity":1,"yOffset":-8},"encoding":{"x":{"datum":2.9676,"axis":null},"y":{"datum":0,"axis":null}}},
   {"mark":{"type":"point","shape":"M0,-1L0.7,-0.1L0.25,-0.1L0.25,1L-0.25,1L-0.25,-0.1L-0.7,-0.1Z","size":225,"filled":true,"color":"#e80000","opacity":1,"yOffset":17},"encoding":{"x":{"field":"rt","type":"quantitative","axis":null},"y":{"datum":0,"axis":null}}}
  ]},
  {"data":{"name":"leaders"},"transform":[{"filter":"datum.p==5"}],"mark":{"type":"rule","color":"#444","strokeWidth":1},"encoding":{"x":{"field":"t","type":"quantitative","axis":null},"x2":{"field":"t2"},"y":{"field":"v","type":"quantitative","axis":null},"y2":{"field":"v2"}}},
  {"data":{"name":"labels"},"transform":[{"filter":"datum.p==5"}],"mark":{"type":"text","fontSize":19,"baseline":"middle"},"encoding":{"x":{"field":"t","type":"quantitative","axis":null},"y":{"field":"v","type":"quantitative","axis":null},"text":{"field":"txt"}}}
 ]},
 {"width":1451,"height":302,"resolve":{"axis":{"x":"independent","y":"independent"}},"layer":[
  {"data":{"name":"traces"},"transform":[{"flatten":["t","p6r"]}],"mark":{"type":"line","color":"#cc2222","strokeWidth":1},
   "encoding":{"x":{"field":"t","type":"quantitative","scale":{"domain":[2.2919,10.1351],"nice":false,"zero":false},"axis":{"title":"Time, min","values":[3,3.1,3.2,3.3,3.4,3.5,3.6,3.7,3.8,3.9,4,4.1,4.2,4.3,4.4,4.5,4.6,4.7,4.8,4.9,5,5.1,5.2,5.3,5.4,5.5,5.6,5.7,5.8,5.9,6,6.1,6.2,6.3,6.4,6.5,6.6,6.7,6.8,6.9,7,7.1,7.2,7.3,7.4,7.5,7.6,7.7,7.8,7.9,8,8.1,8.2,8.3,8.4,8.5,8.6,8.7,8.8,8.9,9,9.1,9.2,9.3,9.4,9.5,9.6,9.7,9.8,9.9],"labelExpr":"round(datum.value*10)%5==0 ? format(datum.value,'.1f') : ''","labelOverlap":false,"offset":-57.7,"titleX":776,"titleY":45.5,"titleBaseline":"middle","titleAlign":"center"}},
    "y":{"field":"p6r","type":"quantitative","scale":{"domain":[-515,2181],"nice":false,"zero":false},"axis":{"title":"Inte...","values":[0,100,200,300,400,500,600,700,800,900,1000,1100,1200,1300,1420],"labelExpr":"datum.value==0||datum.value==500||datum.value==1000||datum.value==1420 ? ''+datum.value : ''","labelOverlap":false,"offset":-129.5,"titleX":-112.5,"titleY":166,"titleBaseline":"middle","titleAlign":"center"}}}},
  {"data":{"name":"traces"},"transform":[{"flatten":["t","p6b"]}],"mark":{"type":"line","color":"#1e1e9e","strokeWidth":1},
   "encoding":{"x":{"field":"t","type":"quantitative","axis":null},"y":{"field":"p6b","type":"quantitative","axis":null}}},
  {"data":{"name":"headers"},"transform":[{"filter":"datum.p==6"}],"layer":[
   {"mark":{"type":"rule","color":"black","strokeWidth":1},"encoding":{"x":{"datum":2.985,"axis":null},"x2":{"datum":9.985},"y":{"datum":0,"axis":null}}},
   {"mark":{"type":"rule","color":"black","strokeWidth":1},"encoding":{"x":{"datum":2.9919,"axis":null},"y":{"datum":0,"axis":null},"y2":{"datum":1440}}},
   {"mark":{"type":"text","align":"left","baseline":"middle","fontSize":20},"encoding":{"x":{"datum":2.6054,"axis":null},"y":{"datum":2065,"axis":null},"text":{"field":"left"}}},
   {"mark":{"type":"text","align":"right","baseline":"middle","fontSize":20},"encoding":{"x":{"datum":10.13,"axis":null},"y":{"datum":2065,"axis":null},"text":{"field":"right"}}},
   {"mark":{"type":"point","shape":"M-1,-0.71L1,-0.71L1,0.71L-1,0.71Z","size":353,"filled":true,"color":"#0000ff","opacity":1,"yOffset":-4.7},"encoding":{"x":{"datum":2.4595,"axis":null},"y":{"datum":2065,"axis":null}}},
   {"mark":{"type":"point","shape":"M-0.5,-1L0.5,0L-0.5,1Z","size":324,"filled":true,"color":"#0000ff","opacity":1,"yOffset":-9},"encoding":{"x":{"datum":2.9676,"axis":null},"y":{"datum":0,"axis":null}}},
   {"mark":{"type":"point","shape":"M0,-1L0.7,-0.1L0.25,-0.1L0.25,1L-0.25,1L-0.25,-0.1L-0.7,-0.1Z","size":225,"filled":true,"color":"#e80000","opacity":1,"yOffset":17},"encoding":{"x":{"field":"rt","type":"quantitative","axis":null},"y":{"datum":0,"axis":null}}}
  ]},
  {"data":{"name":"leaders"},"transform":[{"filter":"datum.p==6"}],"mark":{"type":"rule","color":"#444","strokeWidth":1},"encoding":{"x":{"field":"t","type":"quantitative","axis":null},"x2":{"field":"t2"},"y":{"field":"v","type":"quantitative","axis":null},"y2":{"field":"v2"}}},
  {"data":{"name":"labels"},"transform":[{"filter":"datum.p==6"}],"mark":{"type":"text","fontSize":19,"baseline":"middle"},"encoding":{"x":{"field":"t","type":"quantitative","axis":null},"y":{"field":"v","type":"quantitative","axis":null},"text":{"field":"txt"}}}
 ]}
]
}
